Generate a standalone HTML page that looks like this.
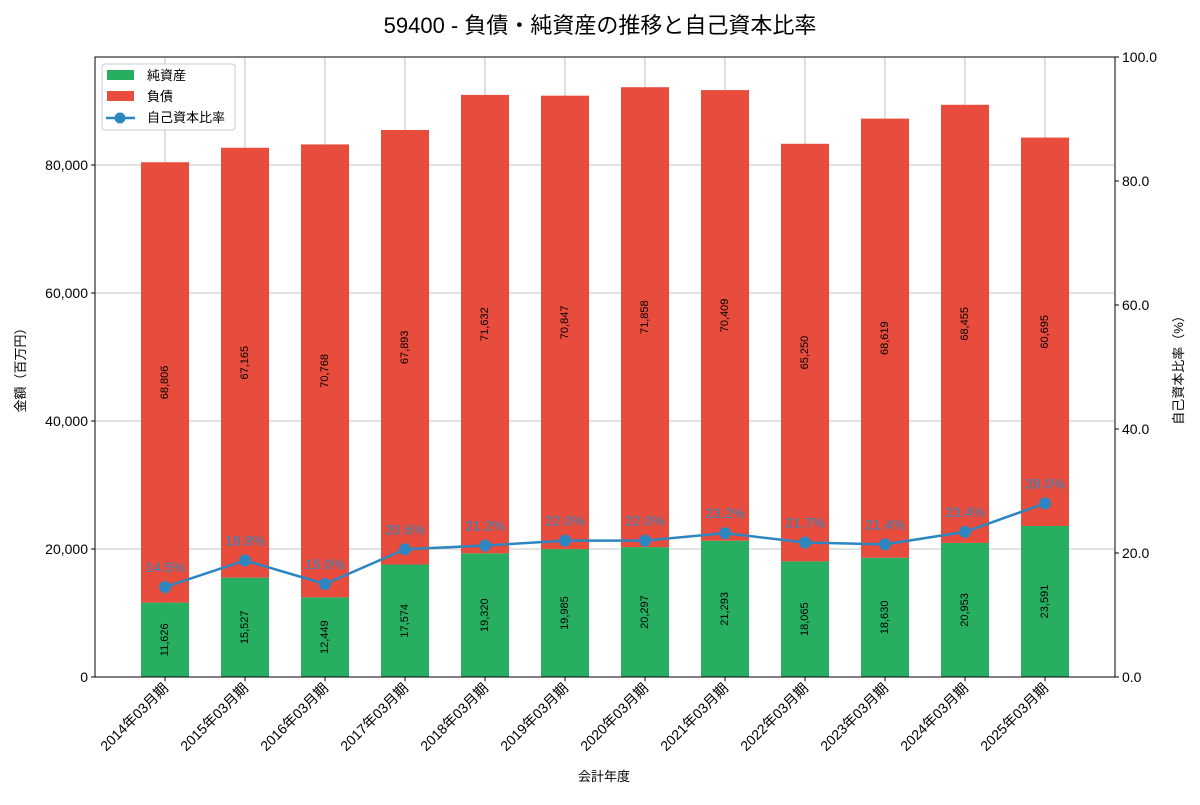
<!DOCTYPE html>
<html><head><meta charset="utf-8"><style>
body{margin:0;background:#fff;font-family:"Liberation Sans","Noto Sans CJK JP",sans-serif;}
svg text{font-family:"Liberation Sans","Noto Sans CJK JP",sans-serif;}
</style></head><body>
<svg id="chart" width="1200" height="800" xmlns="http://www.w3.org/2000/svg">
<rect width="1200" height="800" fill="#fff"/>
<text x="600" y="33" text-anchor="middle" font-size="22" fill="#000">59400 - 負債・純資産の推移と自己資本比率</text>
<g id="grid"></g><g id="bars"></g><g id="line"></g><g id="axes"></g>
</svg>
<script>
const categories=["2014年03月期","2015年03月期","2016年03月期","2017年03月期","2018年03月期","2019年03月期","2020年03月期","2021年03月期","2022年03月期","2023年03月期","2024年03月期","2025年03月期"];
const netAssets=[11626,15527,12449,17574,19320,19985,20297,21293,18065,18630,20953,23591];
const liabilities=[68806,67165,70768,67893,71632,70847,71858,70409,65250,68619,68455,60695];
const equityRatio=[14.5,18.8,15.0,20.6,21.2,22.0,22.0,23.2,21.7,21.4,23.4,28.0];
const leftTicks=[0,20000,40000,60000,80000];
const rightTicks=[0,20,40,60,80,100];
const L=95,R=1115,T=57,B=677;
const NS="http://www.w3.org/2000/svg";
const xS=i=>L+(i+0.875)/12.75*(R-L);
const yL=v=>B-v/96875*(B-T);
const yR=v=>B-v/100*(B-T);
const bw=0.6/12.75*(R-L);
function mk(p,tag,a,txt){const e=document.createElementNS(NS,tag);for(const k in a)e.setAttribute(k,a[k]);if(txt!=null)e.textContent=txt;document.getElementById(p).appendChild(e);return e;}
const fmt=v=>v.toLocaleString("en-US");
// grid
categories.forEach((c,i)=>{const e=mk("grid","line",{x1:xS(i),x2:xS(i),y1:T,y2:B,stroke:"#b0b0b0","stroke-width":0.8});

});
leftTicks.forEach(v=>{const e=mk("grid","line",{x1:L,x2:R,y1:yL(v),y2:yL(v),stroke:"#b0b0b0","stroke-width":0.8});

});
// bars
categories.forEach((c,i)=>{
const x=xS(i)-bw/2;
const g=mk("bars","rect",{x:x,y:yL(netAssets[i]),width:bw,height:yL(0)-yL(netAssets[i]),fill:"#27ae60"});


const r=mk("bars","rect",{x:x,y:yL(netAssets[i]+liabilities[i]),width:bw,height:yL(netAssets[i])-yL(netAssets[i]+liabilities[i]),fill:"#e74c3c"});


const ym=yL(netAssets[i]/2),yr=yL(netAssets[i]+liabilities[i]/2);
const t1=mk("bars","text",{x:xS(i),y:ym,transform:`rotate(-90 ${xS(i)} ${ym})`,"text-anchor":"middle","dominant-baseline":"central","font-size":11,fill:"#000"},fmt(netAssets[i]));


const t2=mk("bars","text",{x:xS(i),y:yr,transform:`rotate(-90 ${xS(i)} ${yr})`,"text-anchor":"middle","dominant-baseline":"central","font-size":11,fill:"#000"},fmt(liabilities[i]));


});
// line
const pl=mk("line","polyline",{points:equityRatio.map((v,i)=>xS(i)+","+yR(v)).join(" "),fill:"none",stroke:"#2e86c1","stroke-width":2.5});


equityRatio.forEach((v,i)=>{
const c=mk("line","circle",{cx:xS(i),cy:yR(v),r:6,fill:"#2e86c1"});


const t=mk("line","text",{x:xS(i),y:yR(v)-15,"text-anchor":"middle","font-size":14,fill:"#2e86c1"},v.toFixed(1)+"%");


});
// axes
const fr=mk("axes","rect",{x:L,y:T,width:R-L,height:B-T,fill:"none",stroke:"#000","stroke-width":1});


leftTicks.forEach(v=>{
mk("axes","line",{x1:L-4,x2:L,y1:yL(v),y2:yL(v),stroke:"#000"});
const t=mk("axes","text",{x:L-7,y:yL(v)+5,"text-anchor":"end","font-size":14,fill:"#000"},fmt(v));


});
rightTicks.forEach(v=>{
mk("axes","line",{x1:R,x2:R+4,y1:yR(v),y2:yR(v),stroke:"#000"});
const t=mk("axes","text",{x:R+7,y:yR(v)+5,"font-size":14,fill:"#000"},v.toFixed(1));


});
categories.forEach((c,i)=>{
mk("axes","line",{x1:xS(i),x2:xS(i),y1:B,y2:B+4,stroke:"#000"});
const x=xS(i)+4,y=B+12;
const t=mk("axes","text",{x:x,y:y,transform:`rotate(-45 ${x} ${y})`,"text-anchor":"end","font-size":14,fill:"#000"},c);


});
</script>
<svg style="position:absolute;left:0;top:0" width="1200" height="800">
<text x="604" y="781" text-anchor="middle" font-size="13">会計年度</text>
<text x="0" y="0" transform="translate(25 367) rotate(-90)" text-anchor="middle" font-size="13">金額（百万円）</text>
<text x="0" y="0" transform="translate(1183 367) rotate(-90)" text-anchor="middle" font-size="13">自己資本比率（%）</text>
<g>
<rect x="102" y="64" width="133" height="66" fill="#fff" fill-opacity="0.85" stroke="#ccc" rx="3"/>
<rect x="107" y="70" width="27" height="10" fill="#27ae60"/>
<text x="147" y="80" font-size="13">純資産</text>
<rect x="107" y="91" width="27" height="10" fill="#e74c3c"/>
<text x="147" y="101" font-size="13">負債</text>
<line x1="106" x2="135" y1="118" y2="118" stroke="#2e86c1" stroke-width="2.5"/>
<circle cx="120" cy="118" r="5.5" fill="#2e86c1"/>
<text x="147" y="122" font-size="13">自己資本比率</text>
</g>
</svg>
</body></html>
